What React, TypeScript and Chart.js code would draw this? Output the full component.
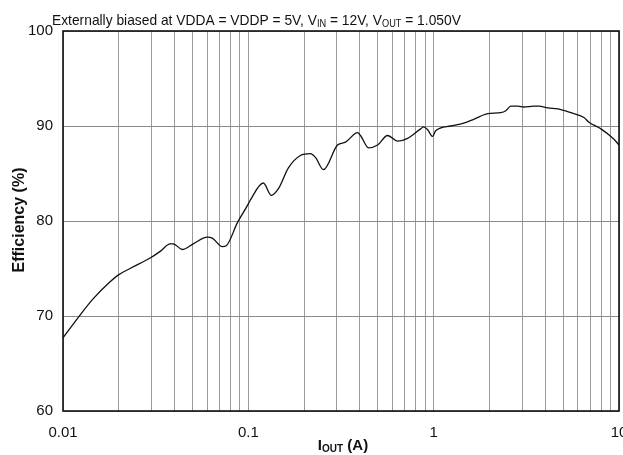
import React, { useEffect, useRef } from 'react';
import { Chart, registerables } from 'chart.js';

Chart.register(...registerables);

const currentA = [
  0.01, 0.01236, 0.01453, 0.01795, 0.01983, 0.02302, 0.02953, 0.03345, 0.03788, 0.03932,
  0.04398, 0.05043, 0.06004, 0.06389, 0.07235, 0.07604, 0.08721, 0.1, 0.1025, 0.1205,
  0.1331, 0.1453, 0.1645, 0.191, 0.2163, 0.2302, 0.2543, 0.3028, 0.3345, 0.3883,
  0.403, 0.4453, 0.4981, 0.5641, 0.6389, 0.7235, 0.8507, 0.883, 0.9281, 0.9876,
  1.025, 1.236, 1.453, 1.645, 1.958, 2.302, 2.449, 2.608, 2.845, 3.067,
  3.472, 3.695, 4.132, 4.681, 5.502, 6.469, 6.883, 7.993, 9.397, 10,
];
const efficiency = [
  67.7, 70.1, 71.8, 73.6, 74.3, 75.0, 76.1, 76.8, 77.6, 77.6,
  77.0, 77.6, 78.3, 78.2, 77.3, 77.4, 79.8, 81.8, 82.2, 84.0,
  82.7, 83.4, 85.6, 86.9, 87.1, 86.7, 85.4, 88.0, 88.3, 89.3,
  89.0, 87.7, 88.0, 89.0, 88.4, 88.7, 89.7, 89.9, 89.6, 88.9,
  89.5, 90.0, 90.3, 90.7, 91.3, 91.4, 91.6, 92.1, 92.1, 92.0,
  92.1, 92.1, 91.9, 91.8, 91.4, 90.9, 90.4, 89.7, 88.6, 88.0,
];

const xGridValues = [
  0.01, 0.02, 0.03, 0.04, 0.05, 0.06, 0.07, 0.08, 0.09,
  0.1, 0.2, 0.3, 0.4, 0.5, 0.6, 0.7, 0.8, 0.9,
  1, 2, 3, 4, 5, 6, 7, 8, 9, 10,
];
const xLabelValues = [0.01, 0.1, 1, 10];
const xLabelTexts = ['0.01', '0.1', '1', '10'];
const yTickValues = [60, 70, 80, 90, 100];

const titleSegments = [
  { t: 'Externally biased at VDDA = VDDP = 5V, V', sub: false },
  { t: 'IN', sub: true },
  { t: ' = 12V, V', sub: false },
  { t: 'OUT', sub: true },
  { t: ' = 1.050V', sub: false },
];
const xTitleSegments = [
  { t: 'I', sub: false },
  { t: 'OUT', sub: true },
  { t: ' (A)', sub: false },
];
const yTitle = 'Efficiency (%)';

const FONT = '"Liberation Sans", Arial, sans-serif';

function drawRich(
  ctx: CanvasRenderingContext2D,
  segs: { t: string; sub: boolean }[],
  x: number,
  y: number,
  size: number,
  subSize: number,
  bold: boolean,
  align: 'left' | 'center',
  sx: number,
) {
  const w = bold ? 'bold ' : '';
  let total = 0;
  for (const s of segs) {
    ctx.font = `${w}${s.sub ? subSize : size}px ${FONT}`;
    total += ctx.measureText(s.t).width;
  }
  total *= sx;
  ctx.save();
  const startX = align === 'center' ? x - total / 2 : x;
  ctx.translate(startX, y);
  ctx.scale(sx, 1);
  let cx = 0;
  ctx.textAlign = 'left';
  ctx.textBaseline = 'alphabetic';
  for (const s of segs) {
    ctx.font = `${w}${s.sub ? subSize : size}px ${FONT}`;
    ctx.fillText(s.t, cx, s.sub ? 2 : 0);
    cx += ctx.measureText(s.t).width;
  }
  ctx.restore();
}

const framePlugin = {
  id: 'frameAndText',
  afterDraw(chart: any) {
    const { ctx, chartArea } = chart;
    const { left, top, right, bottom } = chartArea;
    ctx.save();
    ctx.strokeStyle = '#111';
    ctx.lineWidth = 1.6;
    ctx.strokeRect(left, top, right - left, bottom - top);
    ctx.fillStyle = '#111';
    drawRich(ctx, titleSegments, 52, 25, 15, 10, false, 'left', 0.92);
    drawRich(ctx, xTitleSegments, (left + right) / 2 + 2, 450, 15, 10, true, 'center', 1);
    ctx.translate(24, 220);
    ctx.rotate(-Math.PI / 2);
    ctx.font = `bold 16px ${FONT}`;
    ctx.textAlign = 'center';
    ctx.textBaseline = 'alphabetic';
    ctx.fillText(yTitle, 0, 0);
    ctx.restore();
  },
};

export default function App() {
  const ref = useRef<HTMLCanvasElement>(null);
  useEffect(() => {
    document.body.style.margin = '0';
    const chart = new Chart(ref.current!, {
      type: 'line',
      data: {
        datasets: [
          {
            data: currentA.map((x, i) => ({ x, y: efficiency[i] })),
            borderColor: '#111',
            borderWidth: 1.3,
            pointRadius: 0,
            cubicInterpolationMode: 'monotone',
            fill: false,
          },
        ],
      },
      options: {
        animation: false,
        responsive: false,
        devicePixelRatio: 1,
        layout: { padding: { top: 31, right: 4, left: 0, bottom: 0 } },
        plugins: { legend: { display: false }, tooltip: { enabled: false }, title: { display: false } },
        scales: {
          x: {
            type: 'logarithmic',
            min: 0.01,
            max: 10,
            afterBuildTicks: (s: any) => {
              s.ticks = xGridValues.map((v) => ({ value: v }));
            },
            afterFit: (s: any) => {
              s.height = 44;
              s.paddingLeft = 0;
              s.paddingRight = 0;
            },
            ticks: {
              autoSkip: false,
              maxRotation: 0,
              minRotation: 0,
              padding: 13,
              color: '#111',
              font: { family: FONT, size: 15 },
              callback: (v: any) => {
                const i = xLabelValues.findIndex((l) => Math.abs(l - Number(v)) / l < 1e-6);
                return i >= 0 ? xLabelTexts[i] : '';
              },
            },
            grid: { color: '#9a9a9a', lineWidth: 1, drawTicks: false },
            border: { display: false },
          },
          y: {
            type: 'linear',
            min: 60,
            max: 100,
            afterBuildTicks: (s: any) => {
              s.ticks = yTickValues.map((v) => ({ value: v }));
            },
            afterFit: (s: any) => {
              s.width = 63;
              s.paddingTop = 0;
              s.paddingBottom = 0;
            },
            ticks: {
              padding: 10,
              color: '#111',
              font: { family: FONT, size: 15 },
            },
            grid: { color: '#8a8a8a', lineWidth: 1, drawTicks: false },
            border: { display: false },
          },
        },
      },
      plugins: [framePlugin],
    } as any);
    return () => chart.destroy();
  }, []);
  return <canvas ref={ref} width={623} height={455} style={{ display: 'block' }} />;
}
